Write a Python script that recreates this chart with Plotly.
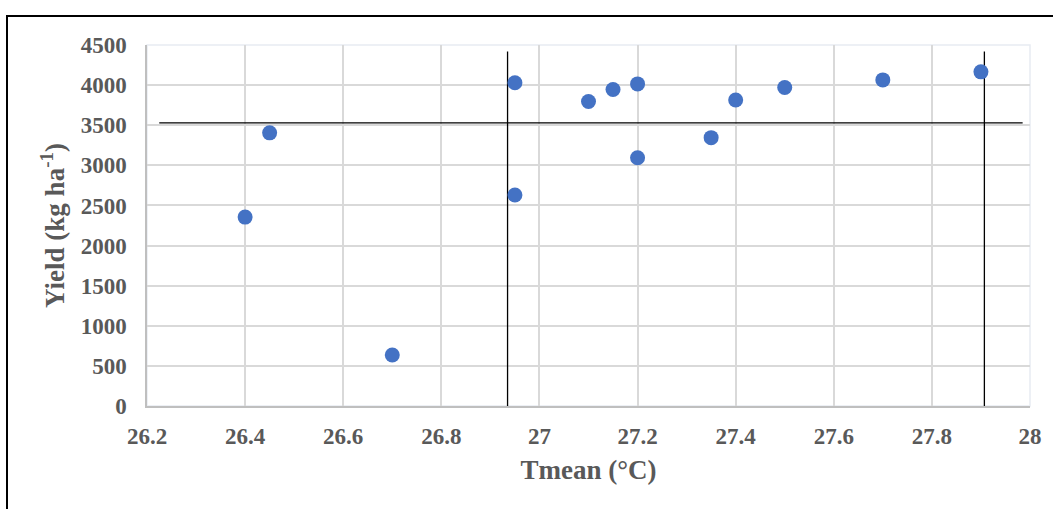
import plotly.graph_objects as go

# Data
tmean = [26.4, 26.45, 26.7, 26.95, 26.95, 27.1, 27.15, 27.2, 27.2, 27.35, 27.4, 27.5, 27.7, 27.9]
yield_kg = [2355, 3405, 635, 4030, 2630, 3795, 3945, 4015, 3095, 3345, 3815, 3970, 4065, 4165]

# Reference lines
vline_x = [26.935, 27.907]
vline_y = [0, 4420]
hline_x = [26.225, 27.985]
hline_y = 3530

x_ticks = [26.2, 26.4, 26.6, 26.8, 27.0, 27.2, 27.4, 27.6, 27.8, 28.0]
x_ticktext = ["26.2", "26.4", "26.6", "26.8", "27", "27.2", "27.4", "27.6", "27.8", "28"]
y_ticks = [0, 500, 1000, 1500, 2000, 2500, 3000, 3500, 4000, 4500]

font_family = "Liberation Serif"
txt_col = "#595959"

fig = go.Figure()

for vx in vline_x:
    fig.add_trace(go.Scatter(x=[vx, vx], y=vline_y, mode="lines",
                             line=dict(color="#000000", width=1.3),
                             hoverinfo="skip", showlegend=False))
fig.add_trace(go.Scatter(x=hline_x, y=[hline_y, hline_y], mode="lines",
                         line=dict(color="#000000", width=1.3),
                         hoverinfo="skip", showlegend=False))

fig.add_trace(go.Scatter(x=tmean, y=yield_kg, mode="markers",
                         marker=dict(color="#4472C4", size=15),
                         showlegend=False))

W, H = 1053, 509
L, R, T, B = 147, 23, 45, 103
pw, ph = W - L - R, H - T - B

# outer black border (paper coords relative to plot area)
fig.add_shape(type="rect", xref="paper", yref="paper",
              x0=(7 - L) / pw, x1=(W + 10 - L) / pw,
              y0=(H - B - (H + 10)) / ph, y1=(H - B - 16) / ph,
              line=dict(color="#000000", width=2), fillcolor="rgba(0,0,0,0)", layer="below")
# light plot border
fig.add_shape(type="rect", xref="paper", yref="paper", x0=0, x1=1, y0=0, y1=1,
              line=dict(color="#E8ECF2", width=1.5), layer="below")

fig.update_layout(
    width=W, height=H,
    margin=dict(l=L, r=R, t=T, b=B),
    paper_bgcolor="white", plot_bgcolor="white",
    font=dict(family=font_family, color=txt_col),
    xaxis=dict(range=[26.2, 28], tickvals=x_ticks, ticktext=x_ticktext,
               showgrid=True, gridcolor="#D9D9D9", gridwidth=1.5,
               showline=True, linecolor="#BFBFBF", linewidth=1.5,
               zeroline=False, ticks="outside", ticklen=9, tickcolor="rgba(0,0,0,0)",
               tickfont=dict(family=font_family, size=23, color=txt_col, weight="bold"),
               title=dict(text="<b>Tmean (°C)</b>", font=dict(family=font_family, size=27, color=txt_col),
                          standoff=12)),
    yaxis=dict(range=[0, 4500], tickvals=y_ticks,
               showgrid=True, gridcolor="#D9D9D9", gridwidth=1.5,
               showline=True, linecolor="#BFBFBF", linewidth=1.5,
               zeroline=False, ticks="outside", ticklen=14, tickcolor="rgba(0,0,0,0)",
               tickfont=dict(family=font_family, size=23, color=txt_col, weight="bold"),
               title=dict(text="<b>Yield (kg ha<sup>-1</sup>)</b>", font=dict(family=font_family, size=27, color=txt_col),
                          standoff=8)),
)

fig.write_html("out.html")
